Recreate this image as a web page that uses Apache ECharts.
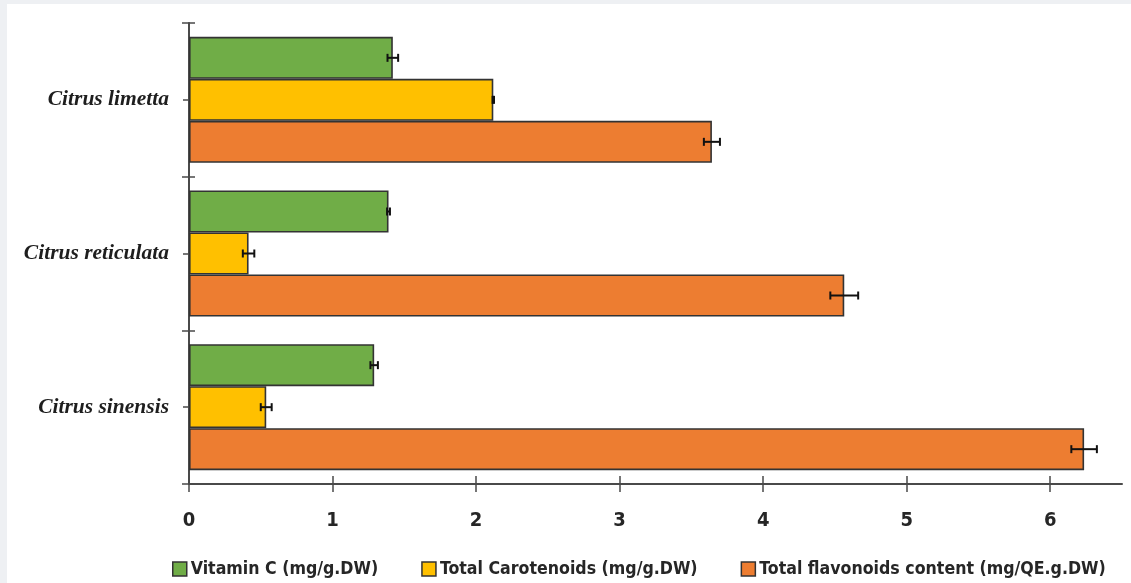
<!DOCTYPE html>
<html>
<head>
<meta charset="utf-8">
<script src="https://cdn.jsdelivr.net/npm/echarts@6/dist/echarts.min.js"></script>
<style>
  html, body { margin: 0; padding: 0; background: #eef0f3; width: 1131px; height: 583px; overflow: hidden; }
  #chart { position: absolute; left: 7px; top: 4px; width: 1124px; height: 579px; background: #ffffff; }
</style>
</head>
<body>
<div id="chart"></div>
<script>
// ---- data ----
const categories = ['Citrus limetta', 'Citrus reticulata', 'Citrus sinensis'];
const seriesNames = ['Vitamin C (mg/g.DW)', 'Total Carotenoids (mg/g.DW)', 'Total flavonoids content (mg/QE.g.DW)'];
const vitaminC = [1.42, 1.39, 1.29];
const vitaminCErr = [0.037, 0.01, 0.026];
const carotenoids = [2.12, 0.415, 0.538];
const carotenoidsErr = [0.005, 0.04, 0.038];
const flavonoids = [3.643, 4.565, 6.236];
const flavonoidsErr = [0.056, 0.097, 0.089];
const xTicks = [0, 1, 2, 3, 4, 5, 6];
const xMax = 6.5;

const colors = ['#70ad47', '#ffc000', '#ed7d31'];
const values = [vitaminC, carotenoids, flavonoids];
const errors = [vitaminCErr, carotenoidsErr, flavonoidsErr];
const GAP = 0.18;

const chart = echarts.init(document.getElementById('chart'), null, { renderer: 'canvas' });

const labelFont = "'Liberation Sans Narrow', 'DejaVu Sans Condensed', 'Arial Narrow', sans-serif";
const axisColor = '#4a4a4a';

function errRenderer(si) {
  return function (params, api) {
    const v = api.value(0), c = api.value(1), e = api.value(2);
    const p = api.coord([v, c]);
    const band = api.size([0, 1])[1];
    const bw = band * (1 - GAP) / 3;
    const y = p[1] + (si - 1) * bw;
    const lo = api.coord([v - e, c])[0];
    const hi = api.coord([v + e, c])[0];
    const cap = 4;
    const st = { stroke: '#111', lineWidth: 2 };
    return {
      type: 'group',
      children: [
        { type: 'line', shape: { x1: lo, y1: y, x2: hi, y2: y }, style: st },
        { type: 'line', shape: { x1: lo, y1: y - cap, x2: lo, y2: y + cap }, style: st },
        { type: 'line', shape: { x1: hi, y1: y - cap, x2: hi, y2: y + cap }, style: st }
      ]
    };
  };
}

const barSeries = seriesNames.map((name, si) => ({
  name: name,
  type: 'bar',
  xAxisIndex: 0,
  yAxisIndex: 0,
  data: values[si],
  barGap: '0%',
  barCategoryGap: (GAP * 100) + '%',
  itemStyle: { color: colors[si], borderColor: '#333333', borderWidth: 1.6 },
  z: 2
}));

const errSeries = seriesNames.map((name, si) => ({
  name: name + ' err',
  type: 'custom',
  xAxisIndex: 0,
  yAxisIndex: 0,
  renderItem: errRenderer(si),
  encode: { x: 0, y: 1 },
  data: values[si].map((v, ci) => [v, ci, errors[si][ci]]),
  z: 5,
  silent: true
}));

function yAx(extra) {
  return Object.assign({
    type: 'category',
    data: categories,
    inverse: true,
    position: 'left',
    gridIndex: 0,
    axisLine: { show: false },
    axisLabel: { show: false },
    splitLine: { show: false },
    axisTick: { show: false }
  }, extra);
}

const option = {
  backgroundColor: '#ffffff',
  animation: false,
  color: colors,
  grid: { left: 182, top: 19, right: 9, bottom: 99, containLabel: false },
  legend: {
    data: seriesNames,
    left: 160,
    top: 551,
    itemWidth: 14,
    itemHeight: 14,
    itemGap: 43,
    icon: 'rect',
    itemStyle: { borderColor: '#333333', borderWidth: 1.5 },
    textStyle: { fontFamily: labelFont, fontWeight: 'bold', fontSize: 17.6, color: '#262626', padding: [0, 0, 0, -1] }
  },
  xAxis: [
    {
      type: 'value', min: 0, max: xMax, interval: 1,
      position: 'bottom',
      axisLine: { show: true, lineStyle: { color: axisColor, width: 2 } },
      axisTick: { show: true, inside: false, length: 8, customValues: xTicks, lineStyle: { color: axisColor, width: 1.5 } },
      axisLabel: { show: true, customValues: xTicks, margin: 27, fontFamily: labelFont, fontWeight: 'bold', fontSize: 20, color: '#262626' },
      splitLine: { show: false }
    },
    {
      type: 'value', min: 0, max: xMax, interval: 1,
      position: 'bottom',
      axisLine: { show: false },
      axisTick: { show: true, inside: true, length: 8, customValues: xTicks, lineStyle: { color: axisColor, width: 1.5 } },
      axisLabel: { show: false },
      splitLine: { show: false }
    }
  ],
  yAxis: [
    yAx({
      axisLine: { show: true, lineStyle: { color: axisColor, width: 2 } },
      axisTick: { show: true, inside: false, length: 7, alignWithLabel: false, lineStyle: { color: axisColor, width: 1.5 } },
      axisLabel: {
        show: true, margin: 20,
        fontFamily: "'Liberation Serif', 'Times New Roman', serif",
        fontStyle: 'italic', fontWeight: 'bold', fontSize: 21.5, color: '#1e1e1e'
      }
    }),
    yAx({ axisTick: { show: true, inside: true, length: 6, alignWithLabel: false, lineStyle: { color: axisColor, width: 1.5 } } }),
    yAx({ axisTick: { show: true, inside: false, length: 6, alignWithLabel: true, lineStyle: { color: axisColor, width: 1.5 } } }),
    yAx({ axisTick: { show: true, inside: true, length: 4, alignWithLabel: true, lineStyle: { color: axisColor, width: 1.5 } } })
  ],
  series: barSeries.concat(errSeries)
};

chart.setOption(option);
</script>
</body>
</html>
